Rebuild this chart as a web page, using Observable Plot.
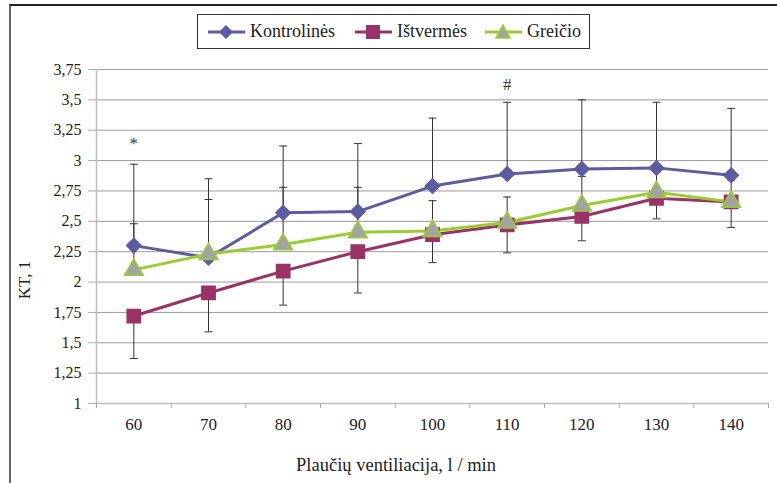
<!DOCTYPE html>
<html><head><meta charset="utf-8">
<script src="https://cdn.jsdelivr.net/npm/d3@7"></script>
<script src="https://cdn.jsdelivr.net/npm/@observablehq/plot@0.6"></script>
<style>
body{margin:0;background:#fff;}
#wrap{position:relative;width:777px;height:483px;overflow:hidden;font-family:"Liberation Serif","Times New Roman",serif;color:#222;}
#wrap svg text{font-family:"Liberation Serif","Times New Roman",serif;}
#frame{position:absolute;left:9px;top:4px;width:820px;height:520px;border-left:2px solid #666;border-top:2px solid #222;pointer-events:none;}
#chart{position:absolute;left:0;top:0;}
#ylabel{position:absolute;left:25px;top:280px;transform:translate(-50%,-50%) rotate(-90deg);font-size:17px;white-space:nowrap;}
#xlabel{position:absolute;left:396px;top:465px;transform:translate(-50%,-50%);font-size:18.5px;white-space:nowrap;}
#legend{position:absolute;left:197px;top:14px;width:391px;height:33px;border:1px solid #333;background:#fff;font-size:18px;}
.item{position:absolute;top:0;height:33px;display:flex;align-items:center;}
.item svg{display:block;margin-right:5px;}
</style></head>
<body>
<div id="wrap">
  <div id="chart"></div>
  <div id="frame"></div>
  <div id="ylabel"></div>
  <div id="xlabel"></div>
  <div id="legend"></div>
</div>
<script>
const categories = [60, 70, 80, 90, 100, 110, 120, 130, 140];
const boundaries = [55, 65, 75, 85, 95, 105, 115, 125, 135, 145];
const yTicks = [1, 1.25, 1.5, 1.75, 2, 2.25, 2.5, 2.75, 3, 3.25, 3.5, 3.75];
const seriesNames = ["Kontrolinės", "Ištvermės", "Greičio"];
const seriesColors = ["#5c5c9e", "#993366", "#99cc33"];
const xTitle = "Plaučių ventiliacija, l / min";
const yTitle = "KT, 1";

const kontr     = [2.30, 2.20, 2.57, 2.58, 2.79, 2.89, 2.93, 2.94, 2.88];
const kontrUp   = [2.97, 2.85, 3.12, 3.14, 3.35, 3.48, 3.50, 3.48, 3.43];
const istv      = [1.72, 1.91, 2.09, 2.25, 2.39, 2.47, 2.54, 2.69, 2.66];
const istvLow   = [1.37, 1.59, 1.81, 1.91, 2.16, 2.24, 2.34, 2.52, 2.45];
const greicio   = [2.10, 2.23, 2.31, 2.41, 2.42, 2.49, 2.63, 2.74, 2.66];
const greicioUp = [2.48, 2.68, 2.78, 2.78, 2.67, 2.70, 2.87, 2.92, 2.84];

const annotations = [
  {x: 60, y: 3.14, t: "*"},
  {x: 110, y: 3.63, t: "#"}
];

const values = [kontr, istv, greicio];
const rows = seriesNames.flatMap((s, si) => categories.map((c, i) => ({series: s, x: c, y: values[si][i]})));
const errs = [
  ...categories.map((c, i) => ({x: c, y1: kontr[i], y2: kontrUp[i]})),
  ...categories.map((c, i) => ({x: c, y1: greicio[i], y2: greicioUp[i]})),
  ...categories.map((c, i) => ({x: c, y1: istv[i], y2: istvLow[i]}))
];

const capSymbol = {
  draw(context, size) {
    const w = Math.sqrt(size / Math.PI);
    context.moveTo(-w, 0);
    context.lineTo(w, 0);
  }
};

const fmt = d => String(d).replace(".", ",");

const chart = Plot.plot({
  width: 777,
  height: 483,
  marginLeft: 96,
  marginRight: 9,
  marginTop: 69,
  marginBottom: 80,
  style: {fontFamily: "'Liberation Serif','Times New Roman',serif", fontSize: "16px", color: "#222", background: "transparent"},
  x: {type: "linear", domain: [55, 145]},
  y: {domain: [1, 3.75]},
  color: {domain: seriesNames, range: seriesColors},
  marks: [
    Plot.gridY(yTicks.slice(1), {stroke: "#9a9a9a", strokeOpacity: 1}),
    Plot.ruleY([1], {stroke: "#bdbdbd", strokeWidth: 1.5}),
    Plot.ruleX([55], {stroke: "#bdbdbd", strokeWidth: 1.5}),
    Plot.axisY(yTicks, {tickFormat: fmt, tickSize: 8, tickPadding: 7, stroke: "#aaa", label: null, fontSize: 16}),
    Plot.axisX(boundaries, {tickFormat: () => "", tickSize: 5, stroke: "#aaa", label: null}),
    Plot.axisX(categories, {tickSize: 0, tickPadding: 14, tickFormat: d => String(d), label: null, fontSize: 17}),
    Plot.ruleX(errs, {x: "x", y1: "y1", y2: "y2", stroke: "#333", strokeWidth: 1}),
    Plot.dot(errs, {x: "x", y: "y2", symbol: capSymbol, r: 4, stroke: "#333", strokeWidth: 1, fill: "none"}),
    Plot.line(rows, {x: "x", y: "y", z: "series", stroke: "series", strokeWidth: 3}),
    Plot.dot(rows.filter(d => d.series === seriesNames[0]), {x: "x", y: "y", symbol: "diamond2", r: 6.5, fill: seriesColors[0], stroke: seriesColors[0]}),
    Plot.dot(rows.filter(d => d.series === seriesNames[1]), {x: "x", y: "y", symbol: "square", r: 7.5, fill: seriesColors[1], stroke: seriesColors[1]}),
    Plot.dot(rows.filter(d => d.series === seriesNames[2]), {x: "x", y: "y", symbol: "triangle", r: 7, fill: "#a3a3a3", stroke: seriesColors[2], strokeWidth: 1.5}),
    Plot.text(annotations, {x: "x", y: "y", text: "t", fontSize: 17, fill: "#333"})
  ]
});
document.getElementById("chart").appendChild(chart);
document.getElementById("ylabel").textContent = yTitle;
document.getElementById("xlabel").textContent = xTitle;

// legend
const legend = document.getElementById("legend");
const legendLeft = [10, 157, 287];
const legendSymbols = [
  c => `<polygon points="18,2 25,9 18,16 11,9" fill="${c}"/>`,
  c => `<rect x="11" y="2" width="14" height="14" fill="${c}"/>`,
  c => `<polygon points="18,2 25,15 11,15" fill="#a3a3a3" stroke="${c}" stroke-width="1.5"/>`
];
seriesNames.forEach((s, i) => {
  const div = document.createElement("div");
  div.className = "item";
  div.style.left = legendLeft[i] + "px";
  div.innerHTML = `<svg width="37" height="18"><line x1="0" x2="37" y1="9" y2="9" stroke="${seriesColors[i]}" stroke-width="3"/>${legendSymbols[i](seriesColors[i])}</svg><span>${s}</span>`;
  legend.appendChild(div);
});
</script>
</body></html>
